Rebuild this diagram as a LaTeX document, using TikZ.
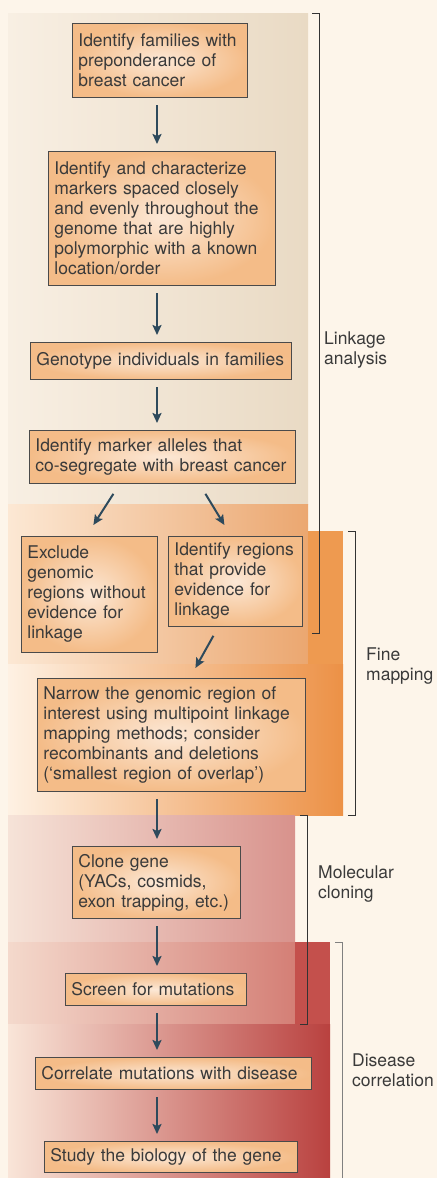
\documentclass[tikz,border=0pt]{standalone}
\usepackage{fontspec}
\setmainfont{TeX Gyre Heros}
\usetikzlibrary{arrows.meta}
\definecolor{bg}{HTML}{FDF5EA}
\definecolor{txt}{HTML}{3A3A3A}
\definecolor{boxline}{HTML}{4A4A4A}
\definecolor{boxin}{HTML}{FCE8D6}
\definecolor{boxout}{HTML}{F4BC88}
\definecolor{arrc}{HTML}{2E4A5C}
\definecolor{brkc}{HTML}{333333}
\definecolor{linkL}{HTML}{F8EFE3}
\definecolor{linkR}{HTML}{E9DAC4}
\definecolor{fineAL}{HTML}{FCE8D4}
\definecolor{fineAR}{HTML}{EBA770}
\definecolor{fineStrip}{HTML}{EE9A50}
\definecolor{fineBL}{HTML}{FEF1E3}
\definecolor{fineBR}{HTML}{EC9146}
\definecolor{cloAL}{HTML}{F6E3D8}
\definecolor{cloAR}{HTML}{D8928C}
\definecolor{cloBL}{HTML}{F4D9CC}
\definecolor{cloBR}{HTML}{D47F76}
\definecolor{disStrip}{HTML}{C4504C}
\definecolor{disL}{HTML}{F9E5D8}
\definecolor{disR}{HTML}{B9413F}
\tikzset{
  box/.style={draw=boxline, line width=0.8bp, inner color=boxin, outer color=boxout,
    anchor=north west, align=left, inner xsep=6bp, inner ysep=0pt, text=txt,
    font=\fontsize{17.5bp}{20bp}\selectfont},
  lab/.style={anchor=west, align=left, inner sep=0pt, text=txt,
    font=\fontsize{17.5bp}{20bp}\selectfont},
  arr/.style={draw=arrc, line width=2bp, -{Stealth[length=10bp,width=9bp,inset=2bp]},
    shorten <=7.5bp, shorten >=7bp},
  darr/.style={draw=arrc, line width=2bp, -{Stealth[length=10bp,width=9bp,inset=2bp]}},
  brk/.style={draw=brkc, line width=1bp},
}
\begin{document}
\begin{tikzpicture}[x=1bp,y=-1bp]
\fill[bg] (0,0) rectangle (437,1178);
\useasboundingbox (0,0) rectangle (437,1178);
% panels
\shade[left color=linkL, right color=linkR] (8,13) rectangle (308,504);
\shade[left color=fineAL, right color=fineAR] (8,504) rectangle (308,664);
\fill[fineStrip] (308,531) rectangle (343,664);
\shade[left color=fineBL, right color=fineBR] (8,664) rectangle (343,815);
\shade[left color=cloAL, right color=cloAR] (8,815) rectangle (295,942);
\shade[left color=cloBL, right color=cloBR] (8,942) rectangle (295,1024);
\fill[disStrip] (295,942) rectangle (330,1024);
\shade[left color=disL, right color=disR] (8,1024) rectangle (330,1178);
% brackets
\draw[brk] (312,13) -- (319,13) -- (319,633) -- (312,633);
\draw[brk] (348,531) -- (355,531) -- (355,815) -- (348,815);
\draw[brk] (300,815) -- (307,815) -- (307,1024) -- (300,1024);
\draw[brk, draw=gray] (335,942) -- (342,942) -- (342,1178);
% labels
\node[lab] (lLink) at (324,350) {Linkage\\analysis};
\node[lab] (lFine) at (366,666) {Fine\\mapping};
\node[lab] (lClone) at (318,884) {Molecular\\cloning};
\node[lab] (lDis) at (352,1070) {Disease\\correlation};
% boxes
\node[box, minimum width=175bp, minimum height=74bp, text width=163bp] (b1) at (72,23)
  {Identify families with\\preponderance of\\breast cancer};
\node[box, minimum width=227bp, minimum height=134bp, text width=215bp] (b2) at (48,151)
  {Identify and characterize\\markers spaced closely\\and evenly throughout the\\genome that are highly\\polymorphic with a known\\location/order};
\node[box, minimum width=261bp, minimum height=37bp, text width=249bp] (b3) at (30,342)
  {Genotype individuals in families};
\node[box, minimum width=266bp, minimum height=53bp, text width=254bp] (b4) at (29,430)
  {Identify marker alleles that\\co-segregate with breast cancer};
\node[box, minimum width=136bp, minimum height=116bp, text width=124bp] (b5) at (21,536)
  {Exclude\\genomic\\regions without\\evidence for\\linkage};
\node[box, minimum width=134bp, minimum height=90bp, text width=122bp] (b6) at (168,536)
  {Identify regions\\that provide\\evidence for\\linkage};
\node[box, minimum width=268bp, minimum height=113bp, text width=256bp] (b7) at (37,678)
  {Narrow the genomic region of\\interest using multipoint linkage\\mapping methods; consider\\recombinants and deletions\\(`smallest region of overlap')};
\node[box, minimum width=168bp, minimum height=72bp, text width=156bp] (b8) at (72,846)
  {Clone gene\\(YACs, cosmids,\\exon trapping, etc.)};
\node[box, minimum width=181bp, minimum height=32bp, text width=169bp] (b9) at (65,973)
  {Screen for mutations};
\node[box, minimum width=276bp, minimum height=32bp, text width=264bp] (b10) at (35,1057)
  {Correlate mutations with disease};
\node[box, minimum width=253bp, minimum height=31bp, text width=241bp] (b11) at (44,1141)
  {Study the biology of the gene};
% arrows
\coordinate (ax) at (157,0);
\draw[arr] (b1.south -| ax) -- (b2.north -| ax);
\draw[arr] (b2.south -| ax) -- (b3.north -| ax);
\draw[arr] (b3.south -| ax) -- (b4.north -| ax);
\draw[darr] ([shift={(-49,10)}]b4.south) -- ([shift={(4,-11)}]b5.north);
\draw[darr] ([shift={(43,10)}]b4.south) -- ([shift={(-11,-11)}]b6.north);
\draw[darr] ([shift={(-22,9)}]b6.south) -- ([shift={(24,-10)}]b7.north);
\draw[arr] (b7.south -| ax) -- (b8.north -| ax);
\draw[arr] (b8.south -| ax) -- (b9.north -| ax);
\draw[arr] (b9.south -| ax) -- (b10.north -| ax);
\draw[arr] (b10.south -| ax) -- (b11.north -| ax);
\end{tikzpicture}
\end{document}
